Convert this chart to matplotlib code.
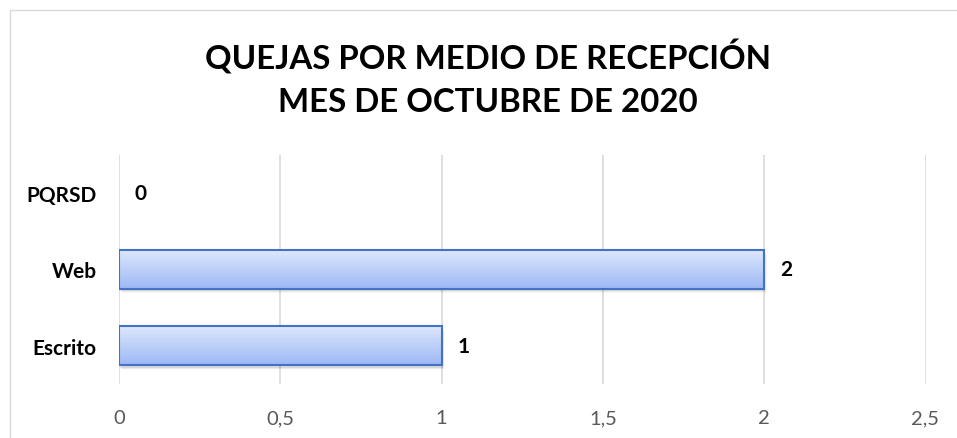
import matplotlib
matplotlib.use("Agg")
import matplotlib.pyplot as plt
import numpy as np
from matplotlib.patches import Rectangle
from matplotlib.colors import LinearSegmentedColormap

categories = ["Escrito", "Web", "PQRSD"]
values = [1, 2, 0]
xticks = [0, 0.5, 1, 1.5, 2, 2.5]
xtick_labels = ["0", "0,5", "1", "1,5", "2", "2,5"]
title_lines = ["QUEJAS POR MEDIO DE RECEPCIÓN", "MES DE OCTUBRE DE 2020"]

FONT = ["Lato", "DejaVu Sans"]
plt.rcParams["font.family"] = FONT

W, H = 957, 439
fig = plt.figure(figsize=(W / 100, H / 100), dpi=100)
fig.patch.set_facecolor("white")

# outer chart border (open at right/bottom as in the crop)
fig.add_artist(Rectangle((10 / W, -0.1), 1.2, 1 - 11 / H + 0.1, transform=fig.transFigure,
                         fill=False, edgecolor="#d9d9d9", linewidth=1.0))

ax = fig.add_axes([119 / W, 1 - 385 / H, (925.5 - 119) / W, (385 - 156) / H])
ax.set_xlim(0, 2.5)
ax.set_ylim(-0.5, 2.5)
for s in ax.spines.values():
    s.set_visible(False)
ax.set_xticks(xticks)
ax.set_xticklabels(xtick_labels, color="#595959", fontsize=14.5)
ax.set_yticks(range(len(categories)))
ax.set_yticklabels(categories, fontsize=15, fontweight="bold", color="black")
ax.tick_params(axis="x", length=0, pad=18)
ax.tick_params(axis="y", length=0, pad=16)
ax.grid(axis="x", color="#d9d9d9", linewidth=1.2)
ax.set_axisbelow(True)

cmap = LinearSegmentedColormap.from_list("g", ["#9db8f5", "#dde7fc"])
grad = np.linspace(0, 1, 256).reshape(-1, 1)
bh = 0.51
for i, v in enumerate(values):
    if v > 0:
        # soft shadow
        for k, a in enumerate([0.08, 0.05, 0.03]):
            sh = Rectangle((0.004 + k * 0.002, i - bh / 2 - 0.03 - k * 0.012), v, bh,
                           facecolor="black", alpha=a, edgecolor="none", zorder=2)
            ax.add_patch(sh)
        im = ax.imshow(grad, cmap=cmap, aspect="auto", origin="lower",
                       extent=(0, v, i - bh / 2, i + bh / 2), zorder=3)
        rect = Rectangle((0, i - bh / 2), v, bh, facecolor="none",
                         edgecolor="#4472c4", linewidth=1.5, zorder=4)
        ax.add_patch(rect)
        im.set_clip_path(rect)
    ax.annotate(str(v), (v, i), xytext=(11.5, 0), textcoords="offset points",
                ha="left", va="center", fontsize=15, fontweight="bold", color="black",
                zorder=5)
ax.set_xlim(0, 2.5)
ax.set_ylim(-0.5, 2.5)

fig.text(488 / W, 1 - 57 / H, title_lines[0], ha="center", va="center", fontsize=23.8,
         fontweight="bold", color="black")
fig.text(488 / W, 1 - 103 / H, title_lines[1], ha="center", va="center", fontsize=23.8,
         fontweight="bold", color="black")

fig.savefig("out.png", dpi=100, facecolor="white")
